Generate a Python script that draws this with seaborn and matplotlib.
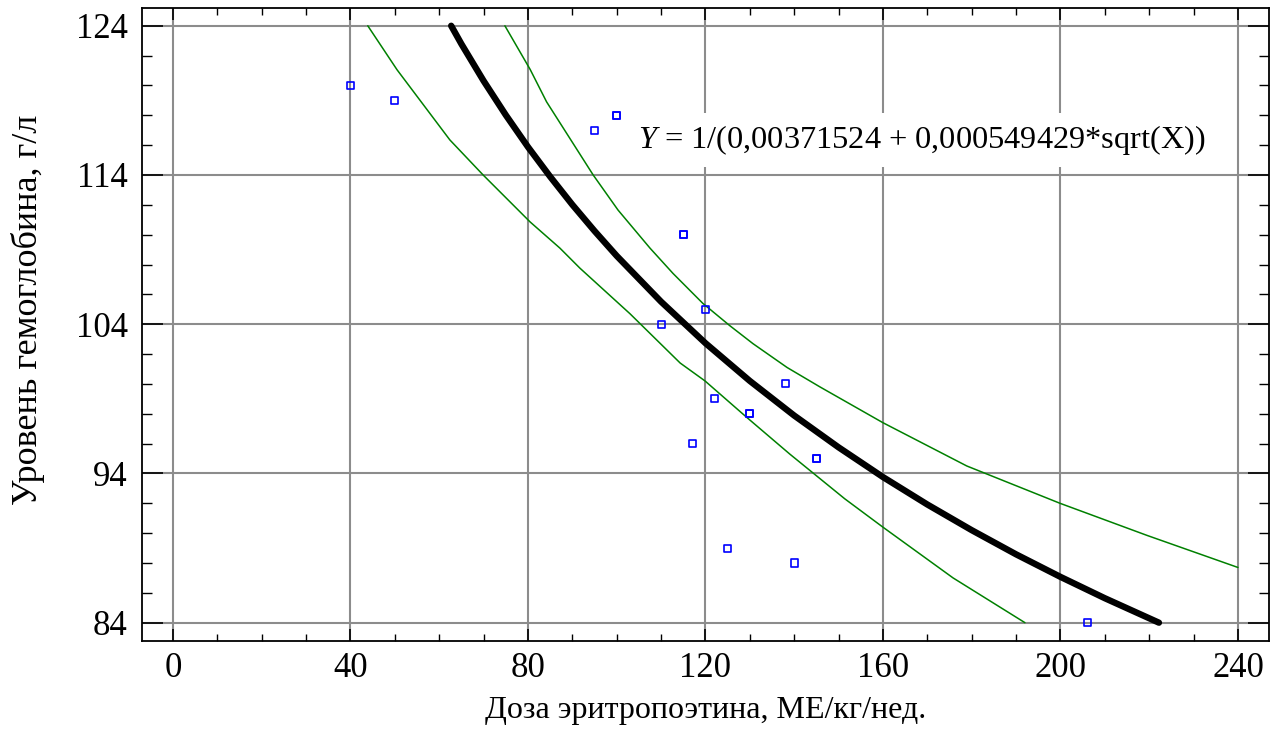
import numpy as np
import pandas as pd
import matplotlib
matplotlib.use("Agg")
import matplotlib.pyplot as plt
from matplotlib.ticker import MultipleLocator
import seaborn as sns

# ---- data ----
dose = [40, 50, 95, 100, 100, 115, 115, 120, 110, 138, 122, 130, 130, 117, 145, 145, 125, 140, 206]
hgb = [120, 119, 117, 118, 118, 110, 110, 105, 104, 100, 99, 98, 98, 96, 95, 95, 89, 88, 84]

# fitted model curve
fit_x = [62.7, 65, 70, 75, 80, 85, 90, 95, 100, 110, 120, 130, 140, 150, 160, 170, 180, 190,
         200, 210, 222.2]
fit_y = [124.0, 122.78, 120.31, 118.02, 115.88, 113.89, 112.01, 110.25, 108.58, 105.51,
         102.73, 100.20, 97.88, 95.75, 93.76, 91.92, 90.20, 88.58, 87.07, 85.64, 84.0]

# upper confidence limit (green)
up_x = [74.8, 80.5, 84.2, 94.7, 100.3, 107.5, 112.7, 119.4, 125.5, 130.7, 138.4,
        145.8, 160, 178.9, 199.9, 219.5, 240]
up_y = [124, 121.07, 118.9, 114.0, 111.65, 109.1, 107.4, 105.4, 103.9, 102.7, 101.1,
        99.8, 97.4, 94.5, 92.0, 89.85, 87.7]

# lower confidence limit (green)
lo_x = [43.9, 50.5, 62.4, 69.9, 80.5, 87.2, 91.7, 103, 114.3, 119.9, 129.3, 139, 151.4,
        160, 175.8, 192]
lo_y = [124, 121.05, 116.35, 114.0, 110.85, 109.1, 107.76, 104.7, 101.4, 100.2, 97.76,
        95.3, 92.3, 90.4, 87.0, 84.0]

x_ticks = [0, 40, 80, 120, 160, 200, 240]
y_ticks = [84, 94, 104, 114, 124]
equation = "$Y$ = 1/(0,00371524 + 0,000549429*sqrt(X))"
x_label = "Доза эритропоэтина, МЕ/кг/нед."
y_label = "Уровень гемоглобина, г/л"

# ---- style ----
sns.set_theme(style="white")
plt.rcParams["font.family"] = ["Liberation Serif", "DejaVu Serif"]
plt.rcParams["mathtext.fontset"] = "custom"
plt.rcParams["mathtext.rm"] = "Liberation Serif"
plt.rcParams["mathtext.it"] = "Liberation Serif:italic"
plt.rcParams["text.color"] = "black"
plt.rcParams["axes.labelcolor"] = "black"
plt.rcParams["xtick.color"] = "black"
plt.rcParams["ytick.color"] = "black"

fig = plt.figure(figsize=(12.81, 7.48), dpi=100)
ax = fig.add_axes([0.1106, 0.1434, 0.9906 - 0.1106, 0.9893 - 0.1434])

df_pts = pd.DataFrame({"x": dose, "y": hgb})
df_fit = pd.DataFrame({"x": fit_x, "y": fit_y})
df_up = pd.DataFrame({"x": up_x, "y": up_y})
df_lo = pd.DataFrame({"x": lo_x, "y": lo_y})

ax.grid(True, which="major", color="#8c8c8c", linewidth=1.5, zorder=0)
ax.set_axisbelow(True)

sns.lineplot(data=df_up, x="x", y="y", ax=ax, color="#008000", linewidth=1.1,
             estimator=None, sort=False, zorder=3)
sns.lineplot(data=df_lo, x="x", y="y", ax=ax, color="#008000", linewidth=1.1,
             estimator=None, sort=False, zorder=3)
sns.lineplot(data=df_fit, x="x", y="y", ax=ax, color="black", linewidth=4.6,
             estimator=None, sort=False, zorder=4)
sns.scatterplot(data=df_pts, x="x", y="y", ax=ax, marker="s", s=26,
                facecolor="none", edgecolor="#0000ff", linewidth=1.2, zorder=5)

ax.set_xlim(-7.05, 246.99)
ax.set_ylim(82.79, 125.19)
ax.set_xticks(x_ticks)
ax.set_yticks(y_ticks)
ax.xaxis.set_minor_locator(MultipleLocator(10))
ax.yaxis.set_minor_locator(MultipleLocator(2))

ax.tick_params(axis="x", which="major", direction="in", length=8.5, width=1.2,
               top=True, bottom=True, labelsize=25, pad=8, color="black", labelcolor="black")
ax.tick_params(axis="x", which="minor", direction="in", length=5, width=1.0,
               top=True, bottom=True, color="black")
ax.tick_params(axis="y", which="major", direction="in", length=15, width=1.2,
               left=True, right=True, labelsize=25, pad=10, color="black", labelcolor="black")
ax.tick_params(axis="y", which="minor", direction="in", length=7.5, width=1.0,
               left=True, right=True, color="black")

for sp in ax.spines.values():
    sp.set_visible(True)
    sp.set_color("black")
    sp.set_linewidth(1.3)

ax.set_xlabel(x_label, fontsize=23, labelpad=8, color="black")
ax.set_ylabel(y_label, fontsize=26, color="black")
ax.yaxis.set_label_coords(-0.0855, 0.523)

ax.text(104.8, 116.34, equation, fontsize=23.3, color="black", va="center", ha="left",
        zorder=6, bbox=dict(boxstyle="square,pad=0.3", facecolor="white", edgecolor="none"))

fig.savefig("out.png", dpi=100)
